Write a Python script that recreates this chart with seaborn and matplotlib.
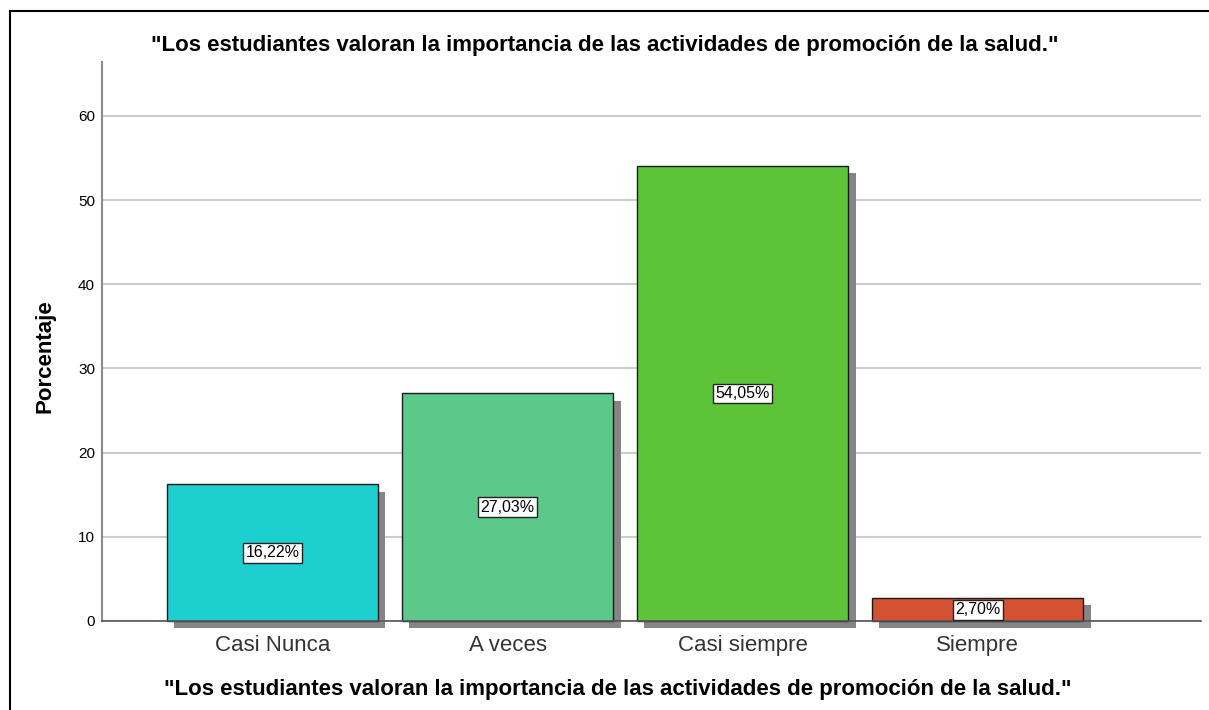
import matplotlib
matplotlib.use("Agg")
import matplotlib.pyplot as plt
import matplotlib.patheffects as pe
from matplotlib.patches import Rectangle
import seaborn as sns
import pandas as pd

# data
categorias = ["Casi Nunca", "A veces", "Casi siempre", "Siempre"]
porcentajes = [16.22, 27.03, 54.05, 2.70]
etiquetas = ["16,22%", "27,03%", "54,05%", "2,70%"]
colores = ["#1ecfcf", "#5cc98a", "#5dc43a", "#d35233"]

titulo = '"Los estudiantes valoran la importancia de las actividades de promoción de la salud."'

sns.set_theme(style="white")
plt.rcParams["font.family"] = ["Liberation Sans", "DejaVu Sans"]
plt.rcParams["text.color"] = "black"

df = pd.DataFrame({"cat": categorias, "pct": porcentajes})

fig = plt.figure(figsize=(12.09, 7.10), dpi=100)
ax = fig.add_axes([102 / 1209, 89 / 710, 1099 / 1209, 559 / 710])

sns.barplot(data=df, x="cat", y="pct", hue="cat", palette=colores, legend=False,
            width=0.9, edgecolor="#1a1a1a", linewidth=1.0, saturation=1, ax=ax, zorder=3)

# grey drop shadow like the SPSS chart
shadow = [pe.SimplePatchShadow(offset=(5.2, -5.2), shadow_rgbFace="#858585", alpha=1.0), pe.Normal()]
for bar in ax.patches:
    bar.set_path_effects(shadow)
    bar.set_clip_on(False)

# value labels in white boxes at mid height
for i, (v, lab) in enumerate(zip(porcentajes, etiquetas)):
    ax.text(i, v / 2, lab, ha="center", va="center", fontsize=11.5, color="black", zorder=5,
            bbox=dict(boxstyle="square,pad=0.15", facecolor="white", edgecolor="#222222", linewidth=1))

ax.set_xlim(-0.725, 3.95)
ax.set_ylim(0, 66.4)
ax.set_yticks([0, 10, 20, 30, 40, 50, 60])
ax.yaxis.grid(True, color="#cccccc", linewidth=1.5, zorder=0)
ax.set_axisbelow(True)
ax.set_xlabel("")
ax.set_ylabel("")
ax.tick_params(axis="both", length=0)
ax.tick_params(axis="y", labelsize=11, pad=5, labelcolor="black")
ax.tick_params(axis="x", labelsize=16, pad=10, labelcolor="#333333")

for s in ["top", "right"]:
    ax.spines[s].set_visible(False)
ax.spines["left"].set_color("#8a8a8a")
ax.spines["left"].set_linewidth(1.5)
ax.spines["bottom"].set_color("#555555")
ax.spines["bottom"].set_linewidth(1.2)
ax.spines["bottom"].set_zorder(4)

fig.text(0.5, 1 - 45 / 710, titulo, ha="center", va="center", fontsize=16, fontweight="bold", color="black")
fig.text(618 / 1209, 1 - 690 / 710, titulo, ha="center", va="center", fontsize=16, fontweight="bold", color="black")
fig.text(45 / 1209, 1 - 356 / 710, "Porcentaje", ha="center", va="center", rotation=90,
         fontsize=16, fontweight="bold", color="black")

# outer frame
fig.patches.append(Rectangle((10 / 1209, -0.05), 1.1, 1 - 11 / 710 + 0.05, transform=fig.transFigure,
                             fill=False, edgecolor="black", linewidth=1.5))

fig.savefig("out.png", dpi=100)
